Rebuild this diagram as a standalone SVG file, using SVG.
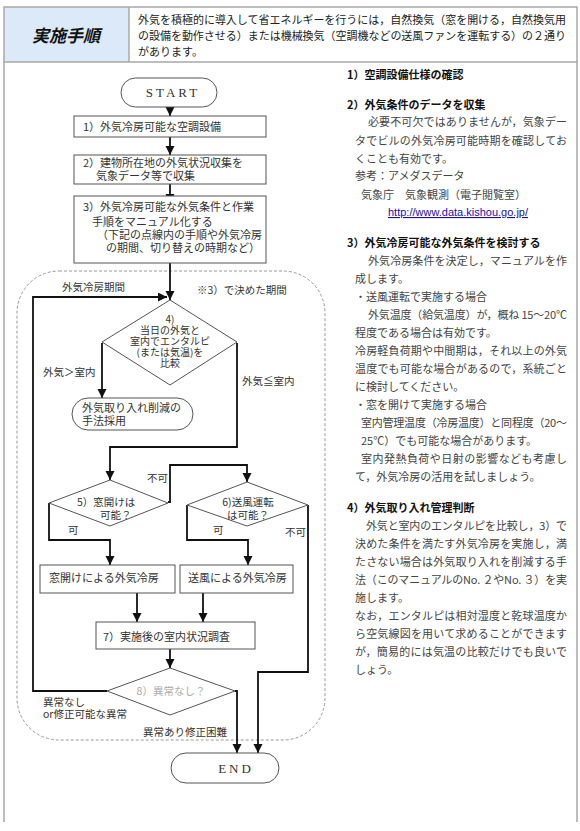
<svg xmlns="http://www.w3.org/2000/svg" width="580" height="831" viewBox="0 0 580 831">
<defs>
<marker id="ah" markerUnits="userSpaceOnUse" markerWidth="10" markerHeight="10" refX="9" refY="4.5" orient="auto">
<path d="M0,0 L9,4.5 L0,9 z" fill="#111"/>
</marker>
<style>
.frame{fill:none;stroke:#a8a8a8;stroke-width:1.5}
.box{fill:#fff;stroke:#555;stroke-width:1}
.con{fill:none;stroke:#111;stroke-width:1.8}
.jp{font-family:"Noto Sans CJK JP","Liberation Sans",sans-serif;font-size:11px;fill:#222}
.fc{font-family:"Noto Sans CJK JP","Liberation Sans",sans-serif;font-size:11px;fill:#333}
.lbl{font-family:"Noto Sans CJK JP","Liberation Sans",sans-serif;font-size:10.5px;fill:#333}
.dt{font-family:"Noto Sans CJK JP","Liberation Sans",sans-serif;font-size:10px;fill:#333}
.body{font-family:"Noto Sans CJK JP","Liberation Sans",sans-serif;font-size:11px;fill:#444}
.head{font-family:"Noto Sans CJK JP","Liberation Sans",sans-serif;font-size:11px;fill:#111;font-weight:700}
.term{font-family:"Liberation Serif",serif;font-size:13px;fill:#333;letter-spacing:3px}
</style>
</defs>
<rect width="580" height="831" fill="#fff"/>
<g id="header">
<rect x="4" y="7" width="125" height="55" fill="#dce9f8"/>
<rect x="4" y="7" width="573" height="55" class="frame"/>
<line x1="129" y1="7" x2="129" y2="62" class="frame"/>
<text x="66" y="42" text-anchor="middle" font-family="'Noto Sans CJK JP',sans-serif" font-size="17" font-weight="700" font-style="italic" fill="#111">実施手順</text>
<text x="138" y="24" class="jp" textLength="428" lengthAdjust="spacing">外気を積極的に導入して省エネルギーを行うには，自然換気（窓を開ける，自然換気用</text>
<text x="138" y="40" class="jp" textLength="428" lengthAdjust="spacing">の設備を動作させる）または機械換気（空調機などの送風ファンを運転する）の２通り</text>
<text x="138" y="56" class="jp">があります。</text>
</g>
<g id="frame">
<path d="M4,62 V822 M577,62 V822" class="frame"/>
</g>
<g id="region">
<rect x="17" y="271" width="308" height="469" rx="42" fill="none" stroke="#999" stroke-width="1" stroke-dasharray="3,2"/>
<text x="197" y="294" class="lbl">※3）で決めた期間</text>
</g>
<g id="connectors">
<path d="M170,107 V116" class="con" marker-end="url(#ah)"/>
<path d="M170,137 V155" class="con" marker-end="url(#ah)"/>
<path d="M170,184 V203" class="con" marker-end="url(#ah)"/>
<path d="M170,263 V300" class="con" marker-end="url(#ah)"/>
<path d="M107,691 H33 V297 H167" class="con" marker-end="url(#ah)"/>
<path d="M102,343 V398" class="con" marker-end="url(#ah)"/>
<path d="M237,343 V447 H110 V480" class="con" marker-end="url(#ah)"/>
<path d="M168,502 H170 V465 H247 V482" class="con" marker-end="url(#ah)"/>
<path d="M49,503 V540 H110 V565" class="con" marker-end="url(#ah)"/>
<path d="M187,505 V540 H248 V565" class="con" marker-end="url(#ah)"/>
<path d="M308,505 V672 H258 V753" class="con" marker-end="url(#ah)"/>
<path d="M137,593 V622" class="con" marker-end="url(#ah)"/>
<path d="M203,593 V622" class="con" marker-end="url(#ah)"/>
<path d="M170,649 V668" class="con" marker-end="url(#ah)"/>
<path d="M235,691 H237 V753" class="con" marker-end="url(#ah)"/>
<text x="62" y="291" class="lbl">外気冷房期間</text>
<text x="43" y="376" class="lbl">外気＞室内</text>
<text x="242" y="385" class="lbl">外気≦室内</text>
<text x="147" y="482" class="lbl">不可</text>
<text x="68" y="534" class="lbl">可</text>
<text x="213" y="534" class="lbl">可</text>
<text x="285" y="536" class="lbl">不可</text>
<text x="43" y="706" class="lbl">異常なし</text>
<text x="43" y="718" class="lbl">or修正可能な異常</text>
<text x="143" y="736" class="lbl">異常あり修正困難</text>
</g>
<g id="start">
<rect x="121" y="78" width="96" height="29" rx="14.5" class="box"/>
<text x="173" y="97" text-anchor="middle" class="term">START</text>
</g>
<g id="n1">
<rect x="74" y="116" width="192" height="21" class="box"/>
<text x="83" y="131" class="fc">1）外気冷房可能な空調設備</text>
</g>
<g id="n2">
<rect x="74" y="155" width="192" height="29" class="box"/>
<text x="83" y="167" class="fc">2）建物所在地の外気状況収集を</text>
<text x="96" y="180" class="fc">気象データ等で収集</text>
</g>
<g id="n3">
<rect x="74" y="196" width="192" height="67" class="box"/>
<text x="83" y="211" class="fc">3）外気冷房可能な外気条件と作業</text>
<text x="92" y="226" class="fc">手順をマニュアル化する</text>
<text x="97" y="239" class="fc">（下記の点線内の手順や外気冷房</text>
<text x="106" y="252" class="fc">の期間、切り替えの時期など）</text>
</g>
<g id="n4">
<polygon points="170,300 237,342 170,385 102,342" class="box"/>
<g class="dt" text-anchor="middle">
<text x="170" y="323">4)</text>
<text x="170" y="334">当日の外気と</text>
<text x="170" y="345">室内でエンタルピ</text>
<text x="170" y="356">(または気温)を</text>
<text x="170" y="367">比較</text>
</g>
</g>
<g id="reduce">
<rect x="72" y="398" width="121" height="32" rx="16" class="box"/>
<text x="82" y="412" class="fc">外気取り入れ削減の</text>
<text x="82" y="425" class="fc">手法採用</text>
</g>
<g id="n5">
<polygon points="110,480 168,503 110,526 49,503" class="box"/>
<text x="77" y="506" class="lbl">5）窓開けは</text>
<text x="100" y="519" class="lbl">可能？</text>
</g>
<g id="n6">
<polygon points="247,482 308,505 247,526 187,505" class="box"/>
<text x="248" y="506" text-anchor="middle" class="lbl">6)送風運転</text>
<text x="248" y="519" text-anchor="middle" class="lbl">は可能？</text>
</g>
<g id="window">
<rect x="40" y="565" width="135" height="28" class="box"/>
<text x="49" y="582" class="fc">窓開けによる外気冷房</text>
</g>
<g id="fan">
<rect x="180" y="565" width="113" height="28" class="box"/>
<text x="188" y="582" class="fc">送風による外気冷房</text>
</g>
<g id="n7">
<rect x="96" y="622" width="159" height="27" class="box"/>
<text x="103" y="641" class="fc">7）実施後の室内状況調査</text>
</g>
<g id="n8">
<polygon points="170,668 235,691 170,715 107,691" class="box"/>
<text x="171" y="695" text-anchor="middle" class="lbl" style="fill:#aaa">8）異常なし？</text>
</g>
<g id="end">
<rect x="171" y="753" width="108" height="30" rx="15" class="box"/>
<text x="236" y="773" text-anchor="middle" class="term">END</text>
</g>
<g id="notes">
<text x="347" y="79" class="head">1）空調設備仕様の確認</text>
<text x="347" y="109" class="head">2）外気条件のデータを収集</text>
<text x="368" y="126" class="body" textLength="199" lengthAdjust="spacing">必要不可欠ではありませんが，気象デー</text>
<text x="355" y="145" class="body" textLength="212" lengthAdjust="spacing">タでビルの外気冷房可能時期を確認してお</text>
<text x="355" y="163" class="body">くことも有効です。</text>
<text x="355" y="180" class="body">参考：アメダスデータ</text>
<text x="361" y="199" class="body">気象庁　気象観測（電子閲覧室）</text>
<text x="388" y="216" font-family="'Liberation Sans',sans-serif" font-size="11" fill="#1a0dab" text-decoration="underline">http://www.data.kishou.go.jp/</text>
<text x="347" y="247" class="head">3）外気冷房可能な外気条件を検討する</text>
<text x="368" y="265" class="body" textLength="199" lengthAdjust="spacing">外気冷房条件を決定し，マニュアルを作</text>
<text x="355" y="283" class="body">成します。</text>
<text x="355" y="301" class="body">・送風運転で実施する場合</text>
<text x="368" y="319" class="body" textLength="199" lengthAdjust="spacing">外気温度（給気温度）が，概ね 15～20℃</text>
<text x="355" y="337" class="body">程度である場合は有効です。</text>
<text x="355" y="355" class="body" textLength="212" lengthAdjust="spacing">冷房軽負荷期や中間期は，それ以上の外気</text>
<text x="355" y="373" class="body" textLength="212" lengthAdjust="spacing">温度でも可能な場合があるので，系統ごと</text>
<text x="355" y="391" class="body">に検討してください。</text>
<text x="355" y="409" class="body">・窓を開けて実施する場合</text>
<text x="361" y="427" class="body" textLength="206" lengthAdjust="spacing">室内管理温度（冷房温度）と同程度（20～</text>
<text x="361" y="445" class="body">25℃）でも可能な場合があります。</text>
<text x="361" y="463" class="body" textLength="206" lengthAdjust="spacing">室内発熱負荷や日射の影響なども考慮し</text>
<text x="355" y="481" class="body">て，外気冷房の活用を試しましょう。</text>
<text x="347" y="512" class="head">4）外気取り入れ管理判断</text>
<text x="366" y="530" class="body" textLength="201" lengthAdjust="spacing">外気と室内のエンタルピを比較し，3）で</text>
<text x="355" y="548" class="body" textLength="212" lengthAdjust="spacing">決めた条件を満たす外気冷房を実施し，満</text>
<text x="355" y="566" class="body" textLength="212" lengthAdjust="spacing">たさない場合は外気取り入れを削減する手</text>
<text x="355" y="584" class="body" textLength="212" lengthAdjust="spacing">法（このマニュアルのNo. ２やNo. ３）を実</text>
<text x="355" y="602" class="body">施します。</text>
<text x="355" y="620" class="body" textLength="212" lengthAdjust="spacing">なお，エンタルピは相対湿度と乾球温度か</text>
<text x="355" y="638" class="body" textLength="212" lengthAdjust="spacing">ら空気線図を用いて求めることができます</text>
<text x="355" y="656" class="body" textLength="212" lengthAdjust="spacing">が，簡易的には気温の比較だけでも良いで</text>
<text x="355" y="674" class="body">しょう。</text>
</g>
</svg>
